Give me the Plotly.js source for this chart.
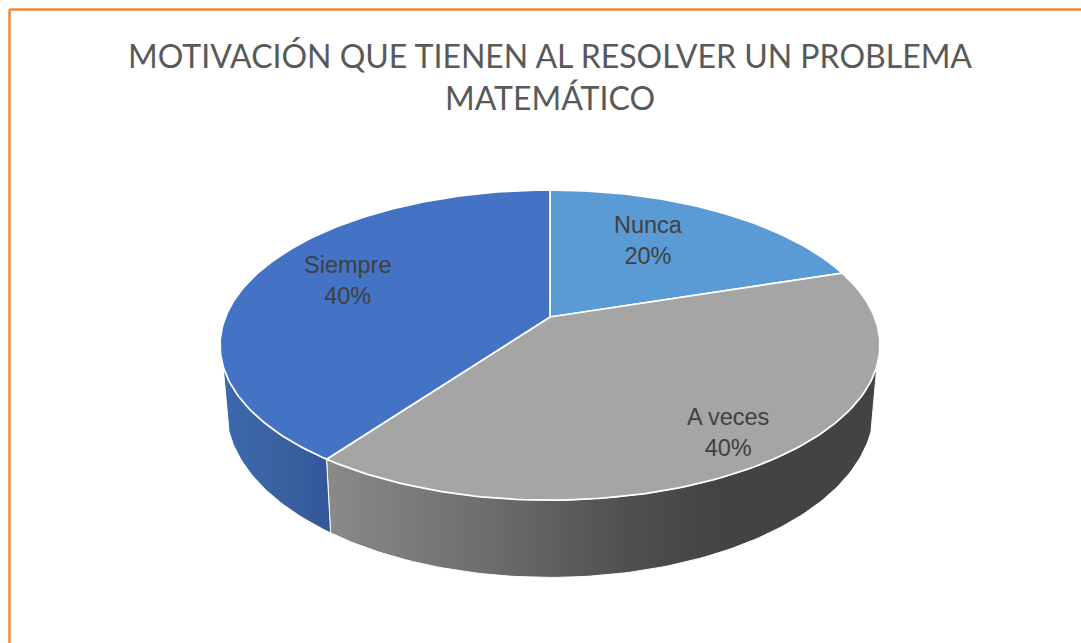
<!DOCTYPE html>
<html>
<head>
<meta charset="utf-8">
<script src="https://cdn.plot.ly/plotly-3.0.1.min.js"></script>
<style>html,body{margin:0;padding:0;background:#fff;overflow:hidden}</style>
</head>
<body>
<div id="chart" style="width:1081px;height:643px"></div>
<script>
const titleText = 'MOTIVACIÓN QUE TIENEN AL RESOLVER UN PROBLEMA<br>MATEMÁTICO';
const categories = ['Nunca', 'A veces', 'Siempre'];
const shares = [20, 40, 40];
const sliceColors = ['#5B9BD5', '#A5A5A5', '#4472C4'];
const wallScales = [
  [[0, '#5B9BD5'], [1, '#5B9BD5']],
  [[0, '#8A8A8A'], [0.3, '#6C6C6C'], [0.55, '#4F4F4F'], [0.72, '#434343'], [1, '#434343']],
  [[0, '#3C68AE'], [0.6, '#39619F'], [1, '#31569A']]
];
const labelAnchors = [[648, 240.5], [728, 432.5], [348, 280.5]];

// Perspective view of a tilted disc: unit circle to screen.
const tilt = 0.181;
const topFace = {cx: 550, cy: 317, a: 324.5, b: 150};
const baseFace = {cx: 550, cy: 378.4, a: 318.6, b: 163};
const frontFrom = 108, frontTo = 252;

function project(face, deg, r) {
  const t = deg * Math.PI / 180;
  const u = r * Math.sin(t), v = r * Math.cos(t), w = 1 + tilt * v;
  return [face.cx + face.a * u / w, face.cy - face.b * v / w];
}
function arc(face, from, to) {
  const pts = [], n = Math.max(2, Math.ceil(Math.abs(to - from)));
  for (let i = 0; i <= n; i++) pts.push(project(face, from + (to - from) * i / n, 1));
  return pts;
}

const total = shares.reduce((s, v) => s + v, 0);
const walls = [], tops = [];
let start = 0;
shares.forEach((v, i) => {
  const end = start + 360 * v / total;
  const a = Math.max(start, frontFrom), b = Math.min(end, frontTo);
  if (b > a) {
    const pts = arc(topFace, a, b).concat(arc(baseFace, b, a));
    pts.push(pts[0]);
    walls.push({
      type: 'scatter', mode: 'lines', x: pts.map(p => p[0]), y: pts.map(p => p[1]),
      fill: 'toself', fillcolor: sliceColors[i],
      fillgradient: {type: 'horizontal', colorscale: wallScales[i]},
      line: {color: '#ffffff', width: 1}, hoverinfo: 'skip', showlegend: false
    });
  }
  const apex = project(topFace, 0, 0);
  const pts = [apex].concat(arc(topFace, start, end), [apex]);
  tops.push({
    type: 'scatter', mode: 'lines', x: pts.map(p => p[0]), y: pts.map(p => p[1]),
    fill: 'toself', fillcolor: sliceColors[i],
    line: {color: '#ffffff', width: 1.75}, name: categories[i],
    hoverinfo: 'name', showlegend: false
  });
  start = end;
});

const annotations = categories.map((c, i) => ({
  x: labelAnchors[i][0], y: labelAnchors[i][1], xref: 'x', yref: 'y',
  text: c + '<br>' + shares[i] + '%', showarrow: false,
  font: {family: '"Liberation Sans", Arial, sans-serif', size: 23.5, color: '#404040'},
  align: 'center', xanchor: 'center', yanchor: 'middle'
}));

const frameColor = '#F0863F';
const layout = {
  width: 1081, height: 643, margin: {l: 0, r: 0, t: 0, b: 0},
  paper_bgcolor: '#ffffff', plot_bgcolor: '#ffffff', showlegend: false,
  title: {
    text: titleText, x: 550 / 1081, xanchor: 'center', y: 1 - 68 / 643, yanchor: 'top',
    font: {family: 'Lato, "Open Sans", sans-serif', size: 32, color: '#595959'}
  },
  xaxis: {range: [0, 1081], visible: false, fixedrange: true},
  yaxis: {range: [643, 0], visible: false, fixedrange: true},
  annotations: annotations,
  shapes: [
    {type: 'line', xref: 'x', yref: 'y', x0: 9.5, x1: 1081, y0: 9.5, y1: 9.5, line: {color: frameColor, width: 2.5}},
    {type: 'line', xref: 'x', yref: 'y', x0: 9.5, x1: 9.5, y0: 9.5, y1: 643, line: {color: frameColor, width: 2.5}}
  ]
};
Plotly.newPlot('chart', walls.concat(tops), layout, {displayModeBar: false, staticPlot: true});
</script>
</body>
</html>
